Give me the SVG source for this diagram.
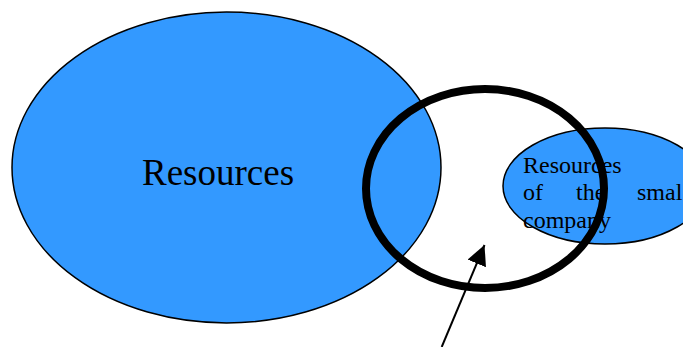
<svg xmlns="http://www.w3.org/2000/svg" width="683" height="347" viewBox="0 0 683 347">
<style>
.blob{fill:#3399ff;stroke:#000;stroke-width:1.5}
.lbl{font-family:"Liberation Serif","Times New Roman",serif;fill:#000}
</style>
<defs>
<marker id="ah" markerUnits="userSpaceOnUse" markerWidth="24" markerHeight="24" refX="20" refY="10" orient="auto">
<path d="M0,0 L20,10 L0,20 Z" fill="#000"/>
</marker>
</defs>
<rect width="683" height="347" fill="#fff"/>
<g id="resources">
<ellipse class="blob" cx="226.5" cy="167.5" rx="214.5" ry="155.5"/>
<text class="lbl" x="142" y="185" font-size="37">Resources</text>
</g>
<g id="small-company">
<ellipse class="blob" cx="605" cy="186" rx="102" ry="58"/>
<text class="lbl" font-size="24"><tspan x="523" y="172.7">Resources</tspan><tspan x="523" y="200">of</tspan><tspan x="576" y="200">the</tspan><tspan x="637" y="200">smal</tspan><tspan x="523" y="227.8">company</tspan></text>
</g>
<g id="overlap">
<ellipse cx="485" cy="188.5" rx="119" ry="99.5" fill="none" stroke="#000" stroke-width="8"/>
</g>
<g id="connectors">
<line x1="441.7" y1="347" x2="484.5" y2="245" stroke="#000" stroke-width="2" marker-end="url(#ah)"/>
</g>
</svg>
